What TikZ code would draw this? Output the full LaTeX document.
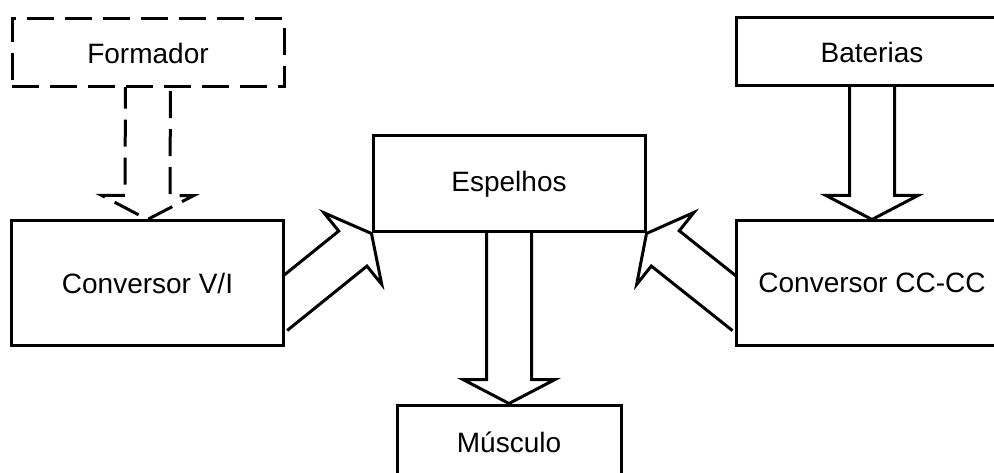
\documentclass[tikz,border=0pt]{standalone}
\usepackage{fontspec}
\setmainfont{Liberation Sans}
\usetikzlibrary{calc, backgrounds}

\tikzset{
  bloco/.style={draw, line width=3pt, fill=white, inner sep=0pt,
    minimum width=272pt, font=\fontsize{28}{34}\selectfont},
  tracejado/.style={dash pattern=on 27pt off 11pt},
  seta/.style={line width=3pt, line join=miter},
}

% seta larga: #2 = origem (dentro do bloco), #3 = ponta
\newcommand{\setalarga}[3][]{%
  \coordinate (sb) at ($(#3)!24pt!(#2)$);
  \draw[seta, #1] ($(#2)!22.5pt!90:(#3)$) -- ($(sb)!22.5pt!90:(#3)$)
    -- ($(sb)!46pt!90:(#3)$) -- (#3) -- ($(sb)!46pt!-90:(#3)$)
    -- ($(sb)!22.5pt!-90:(#3)$) -- ($(#2)!22.5pt!-90:(#3)$);
}

\begin{document}
\begin{tikzpicture}[x=1pt, y=-1pt]

\useasboundingbox (0,0) rectangle (994,473);
\clip (0,0) rectangle (994,473);

% blocos
\node[bloco, tracejado, minimum height=68pt] (form) at (148,53) {Formador};
\node[bloco, minimum height=124pt] (conv) at (147.5,283) {Conversor V/I};
\node[bloco, minimum height=96pt] (esp) at (509,184) {Espelhos};
\node[bloco, minimum width=224pt, minimum height=75pt] (mus) at (509,442.5) {Músculo};
\node[bloco, minimum height=68pt] (bat) at (872,52) {Baterias};
\node[bloco, minimum height=124pt] (cc) at (872,283) {Conversor CC-CC};

\coordinate (vi out) at ($(conv.east)+(-12,30)$);
\coordinate (cc out) at ($(cc.west)+(12,30)$);

% setas
\begin{scope}[on background layer]
\setalarga[tracejado]{form.center}{conv.north}
\setalarga{bat.center}{cc.north}
\setalarga{esp.center}{mus.north}
\setalarga{vi out}{esp.south west}
\setalarga{cc out}{esp.south east}
\end{scope}

\end{tikzpicture}
\end{document}
